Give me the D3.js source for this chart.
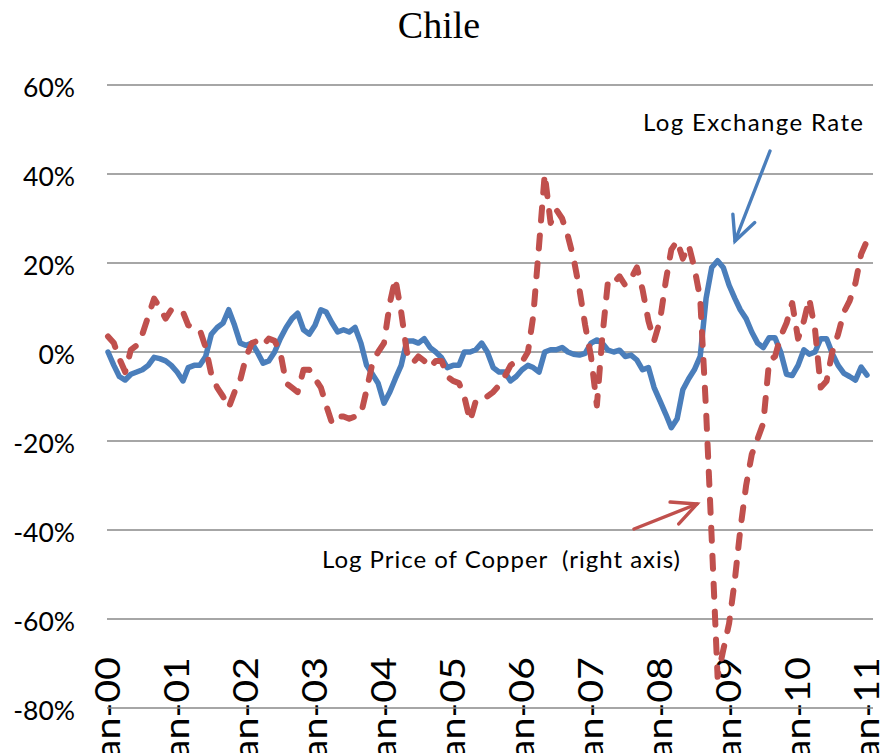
<!DOCTYPE html>
<html><head><meta charset="utf-8">
<script src="https://cdn.jsdelivr.net/npm/d3@7"></script>
<style>body{margin:0;background:#fff}svg{display:block}</style>
</head><body>
<svg id="chart" width="881" height="753"></svg>
<script>
// ---- data (monthly, Jan-2000 .. Jan-2011), values in percent ----
const chartTitle = "Chile";
const startYear = 2000;
const exchangeRate = [
  0,-3,-5.5,-6.3,-5,-4.5,-4,-3,-1.2,-1.5,-2,-3,
  -4.5,-6.5,-3.5,-3,-3,-1,4,5.5,6.5,9.5,6,2,
  1.5,2,0,-2.5,-2,0,3,5.5,7.5,8.7,5,4,
  6,9.5,9,6.5,4.5,5,4.5,5.5,2,-3,-5,-7,
  -11.5,-9,-6,-3,2.5,2.5,2,3,1,0,-1.3,-3.5,
  -3,-3,0,0,0.5,2,0,-3.5,-4.5,-4.5,-6.5,-5.5,
  -4,-3,-3.5,-4.5,0,0.5,0.5,1,0,-0.5,-0.7,-0.3,
  2,2.7,2,0.4,0,0.4,-1,-0.7,-1.8,-4,-3.5,-8,
  -11,-14,-17,-15,-8.5,-6,-4,-1,12,19,20.5,19,
  15,12,9.5,7.5,4.5,2,1,3.2,3.2,0,-5,-5.3,
  -3,0.5,-0.5,0,3,3,-0.3,-3,-4.8,-5.5,-6.3,-3.4,
  -5.2
];
const copperPrice = [
  3.5,2,-1.5,-4.5,0.5,1.5,4,8,12,10,7.5,9.5,
  9.5,9,6,5.5,5,1,-5,-8,-10,-12.5,-9,-6.3,
  -1.1,2,2.5,1.5,3,2.5,0,-7,-8,-9,-4,-4,
  -6,-8,-12,-16,-14.5,-14.5,-15,-14.5,-14,-8.5,-2.5,0,
  2,11,16.5,9,0,-2.5,-1,-2,-3.5,-2,-2,-5.5,
  -6.5,-7,-10,-15.5,-11,-11,-10,-9,-7.5,-5.5,-3,-2,
  -2.2,0,8,24,40,29,32,30,26,21,14,6,
  -1,-12,3,16,15.5,17,15,16.5,19,14,7,2.5,
  7,16,23,25,21,24,19,12,-13,-42,-73,-67,
  -61,-51,-40,-30,-23,-19.5,-16,-2,-1,3.5,6.5,11,
  3,7,12,5,-8,-6.5,0,4,9,11.5,15.5,22,
  25
];
const yTicks = [-80,-60,-40,-20,0,20,40,60];
const yTickLabels = ["-80%","-60%","-40%","-20%","0%","20%","40%","60%"];
const xTickLabels = ["Jan-00","Jan-01","Jan-02","Jan-03","Jan-04","Jan-05","Jan-06","Jan-07","Jan-08","Jan-09","Jan-10","Jan-11"];
const exchangeLabel = "Log Exchange Rate";
const copperLabel = "Log Price of Copper\u00a0\u00a0(right axis)";

// ---- drawing ----
const svg = d3.select("#chart");
const blue = "#4a7ebb", red = "#c0504d", grid = "#898989";
const months = exchangeRate.map((_, i) => new Date(startYear, i, 1));
const x = d3.scaleTime().domain([new Date(startYear,0,1), new Date(startYear+11,0,1)]).range([108, 867]);
const y = d3.scaleLinear().domain([-80, 60]).range([708, 85]);

// title
svg.append("text").attr("x", 439).attr("y", 38).attr("text-anchor","middle")
  .style("font-family","'Liberation Serif','Times New Roman',serif").style("font-size","38px")
  .text(chartTitle);

// x labels (rotated)
const yearDates = xTickLabels.map((_, k) => new Date(startYear + k, 0, 1));
svg.append("g").selectAll("text").data(xTickLabels).join("text")
  .attr("transform", (d,k) => `translate(${x(yearDates[k]) + 12},657) rotate(-90) scale(1.13,1)`)
  .attr("text-anchor","end")
  .style("font-family","Lato,'Open Sans',sans-serif").style("font-size","35px").style("fill","#000")
  .text(d => d);

// gridlines
svg.append("g").selectAll("line").data(yTicks).join("line")
  .attr("x1", 107).attr("x2", 873)
  .attr("y1", d => y(d)).attr("y2", d => y(d))
  .attr("stroke", grid).attr("stroke-width", 1.6);

// y labels
svg.append("g").selectAll("text").data(yTicks).join("text")
  .attr("x", 75).attr("y", d => y(d) + 12).attr("text-anchor","end")
  .style("font-family","Lato,'Open Sans',sans-serif").style("font-size","26.5px").style("fill","#000")
  .text((d,k) => yTickLabels[k]);

// series
const line = d3.line().x((d,i) => x(months[i])).y(d => y(d));
svg.append("path").datum(exchangeRate).attr("d", line)
  .attr("fill","none").attr("stroke", blue).attr("stroke-width", 5.5)
  .attr("stroke-linejoin","round").attr("stroke-linecap","round");
svg.append("path").datum(copperPrice).attr("d", line)
  .attr("fill","none").attr("stroke", red).attr("stroke-width", 6)
  .attr("stroke-dasharray","13,15").attr("stroke-linejoin","round").attr("stroke-linecap","round");

// annotations
const annFont = "Lato,'Open Sans',sans-serif";
svg.append("text").attr("x", 643).attr("y", 131)
  .attr("textLength", 220).attr("lengthAdjust","spacing")
  .style("font-family", annFont).style("font-size","24px").text(exchangeLabel);
svg.append("text").attr("x", 322).attr("y", 568)
  .attr("textLength", 358).attr("lengthAdjust","spacing")
  .style("font-family", annFont).style("font-size","24px").text(copperLabel);

function arrow(x1,y1,x2,y2,color){
  const g = svg.append("g").attr("stroke", color).attr("stroke-width", 3.4)
    .attr("stroke-linecap","round").attr("fill","none");
  g.append("line").attr("x1",x1).attr("y1",y1).attr("x2",x2).attr("y2",y2);
  const ang = Math.atan2(y2-y1, x2-x1), L = 27, a = 0.45;
  g.append("polyline").attr("points", [
    [x2 - L*Math.cos(ang - a), y2 - L*Math.sin(ang - a)],
    [x2, y2],
    [x2 - L*Math.cos(ang + a), y2 - L*Math.sin(ang + a)]
  ].map(p => p.join(",")).join(" "));
}
arrow(770, 151, 735, 241, blue);
arrow(634, 529, 697, 504, red);
</script>
</body></html>
